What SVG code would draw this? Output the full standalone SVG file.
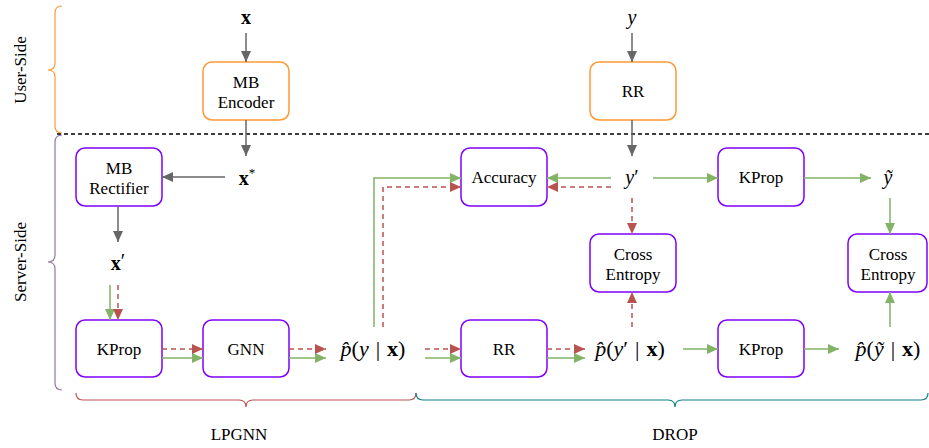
<svg xmlns="http://www.w3.org/2000/svg" width="929" height="448" viewBox="0 0 929 448">
<style>
text{fill:#000;font-family:"Liberation Serif","Times New Roman",serif}
.lbl{font-size:17px;text-anchor:middle}
.m{font-size:20px;text-anchor:middle}
.mm{font-size:22px;text-anchor:middle}
.it{font-style:italic}
.bf{font-weight:bold}
.node-u{fill:#fff;stroke:#FF9933;stroke-width:1.5}
.node-s{fill:#fff;stroke:#7F00FF;stroke-width:1.5}
.g{fill:none;stroke:#666;stroke-width:1.5;marker-end:url(#ag)}
.gr{fill:none;stroke:#82B366;stroke-width:1.5;marker-end:url(#agr)}
.rd{fill:none;stroke:#B85450;stroke-width:1.5;stroke-dasharray:5,4;marker-end:url(#ard)}
.brace{fill:none;stroke-width:1.2}
</style>
<defs>
<marker id="ag" markerUnits="userSpaceOnUse" markerWidth="12" markerHeight="10" refX="11" refY="5" orient="auto"><path d="M0,0 L11,5 L0,10 Z" fill="#666"/></marker>
<marker id="agr" markerUnits="userSpaceOnUse" markerWidth="12" markerHeight="10" refX="11" refY="5" orient="auto"><path d="M0,0 L11,5 L0,10 Z" fill="#82B366"/></marker>
<marker id="ard" markerUnits="userSpaceOnUse" markerWidth="12" markerHeight="10" refX="11" refY="5" orient="auto"><path d="M0,0 L11,5 L0,10 Z" fill="#B85450"/></marker>
</defs>
<rect width="929" height="448" fill="#fff"/>

<g id="braces">
<path class="brace" stroke="#FF9933" d="M62,6 Q55,6 55,13 L55,63 Q55,70 48,70 Q55,70 55,77 L55,126 Q55,133 62,133"/>
<path class="brace" stroke="#9673A6" d="M62,135 Q55,135 55,142 L55,255 Q55,262 48,262 Q55,262 55,269 L55,383 Q55,390 62,390"/>
<path class="brace" stroke="#B85450" d="M76,393 Q76,400 83,400 L239,400 Q246,400 246,407 Q246,400 253,400 L409,400 Q416,400 416,393"/>
<path class="brace" stroke="#0E8088" d="M416,393 Q416,400 423,400 L668,400 Q675,400 675,407 Q675,400 682,400 L921,400 Q928,400 928,393"/>
<text class="lbl" transform="translate(26,70) rotate(-90)">User-Side</text>
<text class="lbl" transform="translate(26,262) rotate(-90)">Server-Side</text>
<text class="lbl" x="239" y="440">LPGNN</text>
<text class="lbl" x="675" y="440">DROP</text>
</g>

<line x1="57" y1="134" x2="929" y2="134" stroke="#000" stroke-width="1.3" stroke-dasharray="4,3"/>

<g id="mb-encoder"><rect class="node-u" x="203" y="62" width="86" height="58" rx="9"/><text class="lbl" x="246" y="88">MB</text><text class="lbl" x="246" y="108">Encoder</text></g>
<g id="rr-user"><rect class="node-u" x="590" y="62" width="86" height="58" rx="9"/><text class="lbl" x="633" y="97">RR</text></g>
<g id="mb-rectifier"><rect class="node-s" x="76" y="148" width="86" height="58" rx="9"/><text class="lbl" x="119" y="174">MB</text><text class="lbl" x="119" y="194">Rectifier</text></g>
<g id="kprop1"><rect class="node-s" x="76" y="320" width="86" height="57" rx="9"/><text class="lbl" x="119" y="355">KProp</text></g>
<g id="gnn"><rect class="node-s" x="203" y="320" width="86" height="57" rx="9"/><text class="lbl" x="246" y="355">GNN</text></g>
<g id="accuracy"><rect class="node-s" x="461" y="148" width="86" height="58" rx="9"/><text class="lbl" x="504" y="183">Accuracy</text></g>
<g id="rr-server"><rect class="node-s" x="461" y="320" width="86" height="57" rx="9"/><text class="lbl" x="504" y="355">RR</text></g>
<g id="ce1"><rect class="node-s" x="590" y="234" width="86" height="58" rx="9"/><text class="lbl" x="633" y="260">Cross</text><text class="lbl" x="633" y="280">Entropy</text></g>
<g id="kprop2"><rect class="node-s" x="718" y="148" width="86" height="58" rx="9"/><text class="lbl" x="761" y="183">KProp</text></g>
<g id="kprop3"><rect class="node-s" x="718" y="320" width="86" height="57" rx="9"/><text class="lbl" x="761" y="355">KProp</text></g>
<g id="ce2"><rect class="node-s" x="848" y="234" width="79" height="58" rx="9"/><text class="lbl" x="888" y="260">Cross</text><text class="lbl" x="888" y="280">Entropy</text></g>

<g id="math">
<text class="m bf" x="246" y="24">x</text>
<text class="m it" x="632" y="24">y</text>
<text class="m bf" x="247" y="185">x<tspan font-size="13" dy="-8" font-weight="normal">*</tspan></text>
<text class="m bf" x="118" y="270">x<tspan font-weight="normal" dy="-2">′</tspan></text>
<text class="m it" x="632" y="184">y<tspan font-style="normal">′</tspan></text>
<text class="m it" x="888" y="184">ỹ</text>
<text class="mm" x="373" y="356"><tspan class="it">p̂</tspan>(<tspan class="it">y</tspan><tspan dx="7">|</tspan><tspan class="bf" dx="7">x</tspan>)</text>
<text class="mm" x="630" y="356"><tspan class="it">p̂</tspan>(<tspan class="it">y</tspan>′<tspan dx="7">|</tspan><tspan class="bf" dx="7">x</tspan>)</text>
<text class="mm" x="888" y="356"><tspan class="it">p̂</tspan>(<tspan class="it">ỹ</tspan><tspan dx="7">|</tspan><tspan class="bf" dx="7">x</tspan>)</text>
</g>

<g id="connectors">
<path class="g" d="M246,33 L246,62"/>
<path class="g" d="M246,120 L246,156"/>
<path class="g" d="M225,177 L162,177"/>
<path class="g" d="M118,206 L118,242"/>
<path class="g" d="M632,33 L632,62"/>
<path class="g" d="M632,120 L632,156"/>

<path class="gr" d="M110,285 L110,320"/>
<path class="gr" d="M162,358 L203,358"/>
<path class="gr" d="M289,358 L326,358"/>
<path class="gr" d="M425,358 L461,358"/>
<path class="gr" d="M547,358 L585,358"/>
<path class="gr" d="M374,327 L374,178 L461,178"/>
<path class="gr" d="M611,178 L547,178"/>
<path class="gr" d="M653,178 L718,178"/>
<path class="gr" d="M804,178 L871,178"/>
<path class="gr" d="M890,198 L890,234"/>
<path class="gr" d="M683,349 L718,349"/>
<path class="gr" d="M804,349 L839,349"/>
<path class="gr" d="M890,327 L890,292"/>

<path class="rd" d="M118,285 L118,320"/>
<path class="rd" d="M162,349 L203,349"/>
<path class="rd" d="M289,349 L326,349"/>
<path class="rd" d="M425,349 L461,349"/>
<path class="rd" d="M547,349 L585,349"/>
<path class="rd" d="M383,327 L383,187 L461,187"/>
<path class="rd" d="M611,187 L547,187"/>
<path class="rd" d="M632,198 L632,234"/>
<path class="rd" d="M632,327 L632,292"/>
</g>
</svg>
